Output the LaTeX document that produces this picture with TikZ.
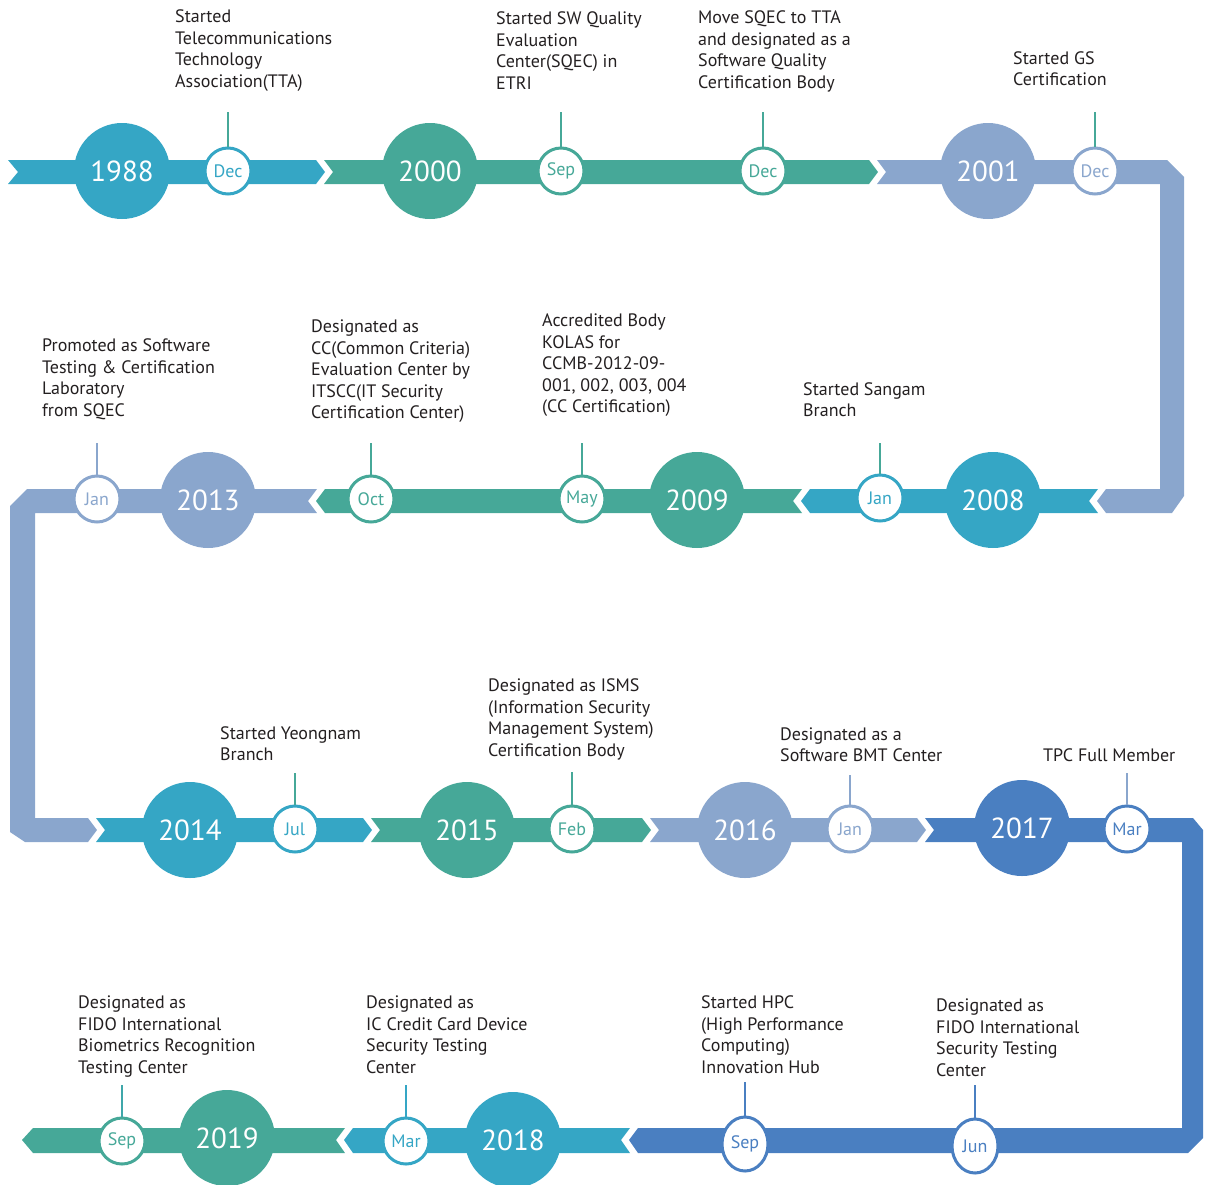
\documentclass[tikz,border=0pt]{standalone}
\usepackage{fontspec}
\setmainfont{PT Sans}
\usetikzlibrary{shapes.geometric}
\definecolor{cblue}{HTML}{35A6C5}
\definecolor{cgreen}{HTML}{46A898}
\definecolor{clav}{HTML}{8AA6CD}
\definecolor{cdark}{HTML}{4A7FC1}
\definecolor{ctext}{HTML}{231F20}
\tikzset{
  yearc/.style={circle, inner sep=0pt, minimum size=96pt, text=white, font=\fontsize{29}{30}\selectfont},
  monthc/.style={circle, fill=white, line width=3pt, inner sep=0pt, minimum size=46pt, font=\fontsize{18}{20}\selectfont},
  monthe/.style={ellipse, fill=white, line width=3pt, inner sep=0pt, minimum width=46pt, minimum height=54pt, font=\fontsize{18}{20}\selectfont},
  tick/.style={line width=1.6pt},
  lbl/.style={anchor=base west, align=left, inner sep=0pt, text=ctext, font=\fontsize{18}{21.4}\selectfont}
}
\begin{document}
\begin{tikzpicture}[x=1pt,y=-1pt]
\useasboundingbox (0,0) rectangle (1207,1184);
% ---------- bands ----------
% row 1
\fill[cblue] (8,160) -- (316,160) -- (325,172) -- (316,184) -- (8,184) -- (18,172) -- cycle;
\fill[cgreen] (324,160) -- (869,160) -- (878,172) -- (869,184) -- (324,184) -- (333,172) -- cycle;
\fill[clav] (877,160) -- (1167,160) -- (1184,177) -- (1184,496) -- (1172,513) -- (1106,513) -- (1097,501) -- (1106,489) -- (1160,489) -- (1160,184) -- (877,184) -- (886,172) -- cycle;
% row 2
\fill[cblue] (1098,489) -- (810,489) -- (801,501) -- (810,513) -- (1098,513) -- (1089,501) -- cycle;
\fill[cgreen] (802,489) -- (325,489) -- (316,501) -- (325,513) -- (802,513) -- (793,501) -- cycle;
\fill[clav] (317,489) -- (27,489) -- (10,506) -- (10,832) -- (25,842) -- (88,842) -- (97,830) -- (88,818) -- (35,818) -- (35,513) -- (317,513) -- (308,501) -- cycle;
% row 3
\fill[cblue] (96,818) -- (363,818) -- (372,830) -- (363,842) -- (96,842) -- (105,830) -- cycle;
\fill[cgreen] (371,818) -- (642,818) -- (651,830) -- (642,842) -- (371,842) -- (380,830) -- cycle;
\fill[clav] (650,818) -- (917,818) -- (926,830) -- (917,842) -- (650,842) -- (659,830) -- cycle;
\fill[cdark] (925,818) -- (1193,818) -- (1203,830) -- (1203,1138) -- (1188,1153) -- (638,1153) -- (629,1140) -- (638,1128) -- (1182,1128) -- (1182,842) -- (925,842) -- (934,830) -- cycle;
% row 4
\fill[cblue] (630,1128) -- (353,1128) -- (344,1140) -- (353,1153) -- (630,1153) -- (621,1140) -- cycle;
\fill[cgreen] (345,1128) -- (33,1128) -- (22,1140) -- (33,1153) -- (345,1153) -- (336,1140) -- cycle;
% ---------- year circles ----------
\node[yearc, fill=cblue] (y1988) at (122,171) {1988};
\node[yearc, fill=cgreen] (y2000) at (430,171) {2000};
\node[yearc, fill=clav] (y2001) at (988,171) {2001};
\node[yearc, fill=cblue] (y2008) at (993,500) {2008};
\node[yearc, fill=cgreen] (y2009) at (697,500) {2009};
\node[yearc, fill=clav] (y2013) at (208,500) {2013};
\node[yearc, fill=cblue] (y2014) at (190,830) {2014};
\node[yearc, fill=cgreen] (y2015) at (467,830) {2015};
\node[yearc, fill=clav] (y2016) at (745,830) {2016};
\node[yearc, fill=cdark] (y2017) at (1022,828) {2017};
\node[yearc, fill=cblue] (y2018) at (513,1140) {2018};
\node[yearc, fill=cgreen] (y2019) at (227,1138) {2019};
% ---------- month circles ----------
\node[monthc, draw=cblue, text=cblue] (m1) at (228,171) {Dec};
\node[monthc, draw=cgreen, text=cgreen] (m2) at (561,171) {Sep};
\node[monthc, draw=cgreen, text=cgreen] (m3) at (763,171) {Dec};
\node[monthc, draw=clav, text=clav] (m4) at (1095,171) {Dec};
\node[monthc, draw=cblue, text=cblue] (m5) at (880,498) {Jan};
\node[monthc, draw=cgreen, text=cgreen] (m6) at (582,499) {May};
\node[monthc, draw=cgreen, text=cgreen] (m7) at (371,499) {Oct};
\node[monthc, draw=clav, text=clav] (m8) at (97,499) {Jan};
\node[monthc, draw=cblue, text=cblue] (m9) at (295,829) {Jul};
\node[monthc, draw=cgreen, text=cgreen] (m10) at (572,829) {Feb};
\node[monthc, draw=clav, text=clav] (m11) at (850,829) {Jan};
\node[monthc, draw=cdark, text=cdark] (m12) at (1127,829) {Mar};
\node[monthe, draw=cdark, text=cdark] (m13) at (975,1146) {Jun};
\node[monthe, draw=cdark, text=cdark] (m14) at (745,1144) {Sep};
\node[monthc, draw=cblue, text=cblue] (m15) at (406,1141) {Mar};
\node[monthc, draw=cgreen, text=cgreen] (m16) at (122,1141) {Sep};
% ---------- tick lines ----------
\coordinate (t1) at (228,112);
\coordinate (t2) at (561,112);
\coordinate (t3) at (763,112);
\coordinate (t4) at (1095,112);
\coordinate (t5) at (880,443);
\coordinate (t6) at (582,443);
\coordinate (t7) at (371,443);
\coordinate (t8) at (97,443);
\coordinate (t9) at (295,773);
\coordinate (t10) at (572,772);
\coordinate (t11) at (850,775);
\coordinate (t12) at (1127,773);
\coordinate (t13) at (975,1085);
\coordinate (t14) at (745,1082);
\coordinate (t15) at (406,1085);
\coordinate (t16) at (122,1085);
\draw[tick, cgreen] (t1) -- (m1.north);
\draw[tick, cgreen] (t2) -- (m2.north);
\draw[tick, cgreen] (t3) -- (m3.north);
\draw[tick, cgreen] (t4) -- (m4.north);
\draw[tick, cgreen] (t5) -- (m5.north);
\draw[tick, cgreen] (t6) -- (m6.north);
\draw[tick, cgreen] (t7) -- (m7.north);
\draw[tick, clav] (t8) -- (m8.north);
\draw[tick, cgreen] (t9) -- (m9.north);
\draw[tick, cgreen] (t10) -- (m10.north);
\draw[tick, clav] (t11) -- (m11.north);
\draw[tick, clav] (t12) -- (m12.north);
\draw[tick, cdark] (t13) -- (m13.north);
\draw[tick, cdark] (t14) -- (m14.north);
\draw[tick, cblue] (t15) -- (m15.north);
\draw[tick, cgreen!60!cblue] (t16) -- (m16.north);
% ---------- labels (anchored at the baseline of their last line) ----------
\node[lbl] (l1) at (175,87) {Started\\Telecommunications\\Technology\\Association(TTA)};
\node[lbl] (l2) at (496,89) {Started SW Quality\\Evaluation\\Center(SQEC) in\\ETRI};
\node[lbl] (l3) at (698,88) {Move SQEC to TTA\\and designated as a\\Software Quality\\Certification Body};
\node[lbl] (l4) at (1013,85.5) {Started GS\\Certification};
\node[lbl] (l5) at (42,416) {Promoted as Software\\Testing \& Certification\\Laboratory\\from SQEC};
\node[lbl] (l6) at (311,418.5) {Designated as\\CC(Common Criteria)\\Evaluation Center by\\ITSCC(IT Security\\Certification Center)};
\node[lbl] (l7) at (542,412.5) {Accredited Body\\KOLAS for\\CCMB-2012-09-\\001, 002, 003, 004\\(CC Certification)};
\node[lbl] (l8) at (803,416.5) {Started Sangam\\Branch};
\node[lbl] (l9) at (220,760.5) {Started Yeongnam\\Branch};
\node[lbl] (l10) at (488,756) {Designated as ISMS\\(Information Security\\Management System)\\Certification Body};
\node[lbl] (l11) at (780,761.5) {Designated as a\\Software BMT Center};
\node[lbl] (l12) at (1043,761) {TPC Full Member};
\node[lbl] (l13) at (78,1073) {Designated as\\FIDO International\\Biometrics Recognition\\Testing Center};
\node[lbl] (l14) at (366,1073) {Designated as\\IC Credit Card Device\\Security Testing\\Center};
\node[lbl] (l15) at (701,1073) {Started HPC\\(High Performance\\Computing)\\Innovation Hub};
\node[lbl] (l16) at (936,1076) {Designated as\\FIDO International\\Security Testing\\Center};
\end{tikzpicture}
\end{document}
